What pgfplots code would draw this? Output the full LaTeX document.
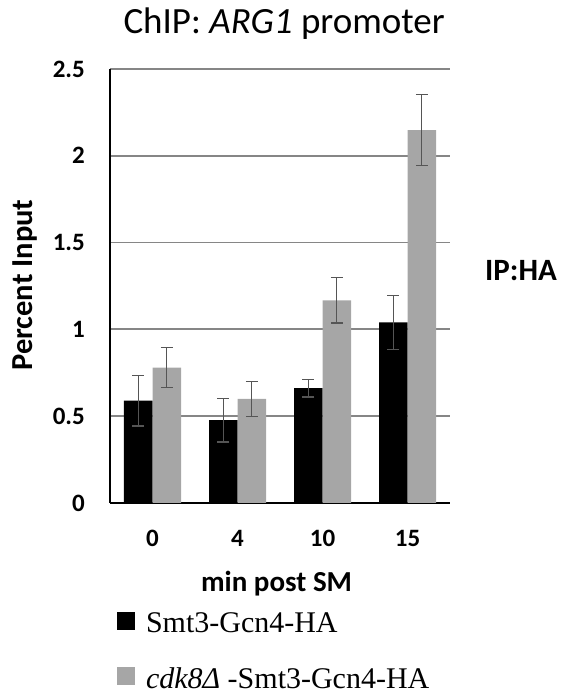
\documentclass[border=0pt]{standalone}
\usepackage{pgfplots}
\pgfplotsset{compat=1.18}
\usepackage{fontspec}
\setmainfont{Carlito}
\newfontfamily\legfont{Liberation Serif}

\definecolor{bargray}{HTML}{A6A6A6}
\definecolor{gridgray}{HTML}{868686}
\definecolor{errgray}{HTML}{555555}

% mean and error, one table per strain
\pgfplotstableread{
x  y      err
0  0.590  0.146
1  0.477  0.125
2  0.662  0.051
3  1.040  0.155
}\wt
\pgfplotstableread{
x  y      err
0  0.780  0.115
1  0.600  0.100
2  1.167  0.130
3  2.148  0.205
}\cdk

\begin{document}
\begin{tikzpicture}
\begin{axis}[
  at={(110pt,190pt)}, anchor=south west,
  scale only axis, width=340pt, height=434pt,
  ybar=0pt, bar width=28.5pt,
  xmin=-0.5, xmax=3.5, ymin=0, ymax=2.5,
  enlargelimits=false,
  xtick={0,1,2,3}, xticklabels={0,4,10,15},
  ytick={0,0.5,...,2.5},
  /pgf/number format/assume math mode=true,
  major tick length=0pt,
  tick style={draw=none},
  axis x line*=bottom, axis y line*=left,
  axis line style={line width=2.5pt, black},
  ymajorgrids,
  major grid style={line width=1.8pt, gridgray},
  yticklabel style={font=\bfseries\fontsize{25}{30}\selectfont, inner sep=0pt, anchor=east, xshift=-25pt},
  xticklabel style={font=\bfseries\fontsize{25}{30}\selectfont, inner sep=0pt, anchor=north, yshift=-27pt},
  xlabel={min post SM},
  xlabel style={font=\bfseries\fontsize{29}{34}\selectfont, at={(axis description cs:0.49,-0.205)}, anchor=base, inner sep=0pt},
  ylabel={Percent Input},
  ylabel style={font=\bfseries\fontsize{30.5}{36}\selectfont, at={(axis description cs:-0.25,0.502)}, anchor=center, inner sep=0pt},
  title={ChIP: \textit{ARG1} promoter},
  title style={font=\fontsize{37}{44}\selectfont, at={(axis description cs:0.512,1.068)}, anchor=base, inner sep=0pt},
  legend image code/.code={\fill[#1] (0pt,-6pt) rectangle (18pt,12pt);},
  legend style={at={(axis description cs:0.02,-0.25)}, anchor=north west,
    draw=none, fill=none, inner sep=0pt,
    font=\legfont\fontsize{30}{34}\selectfont,
    row sep=31pt,
    nodes={inner sep=1pt},
    /tikz/every odd column/.append style={column sep=10pt}},
  legend cell align=left,
]
\addplot[fill=black, draw=none,
  error bars/.cd, y dir=both, y explicit,
  error bar style={line width=1.3pt, errgray},
  error mark options={rotate=90, mark size=6pt, line width=1.3pt, errgray}]
  table[x=x, y=y, y error=err] {\wt};
\addplot[fill=bargray, draw=none,
  error bars/.cd, y dir=both, y explicit,
  error bar style={line width=1.3pt, errgray},
  error mark options={rotate=90, mark size=6pt, line width=1.3pt, errgray}]
  table[x=x, y=y, y error=err] {\cdk};
\legend{Smt3-Gcn4-HA, {\textit{cdk8Δ} -Smt3-Gcn4-HA}}
\end{axis}
\node[font=\bfseries\fontsize{31}{36}\selectfont, inner sep=0pt] at (521pt,422pt) {IP:HA};
\pgfresetboundingbox
\path[use as bounding box] (0pt,0pt) rectangle (563pt,693pt);
\end{tikzpicture}
\end{document}
